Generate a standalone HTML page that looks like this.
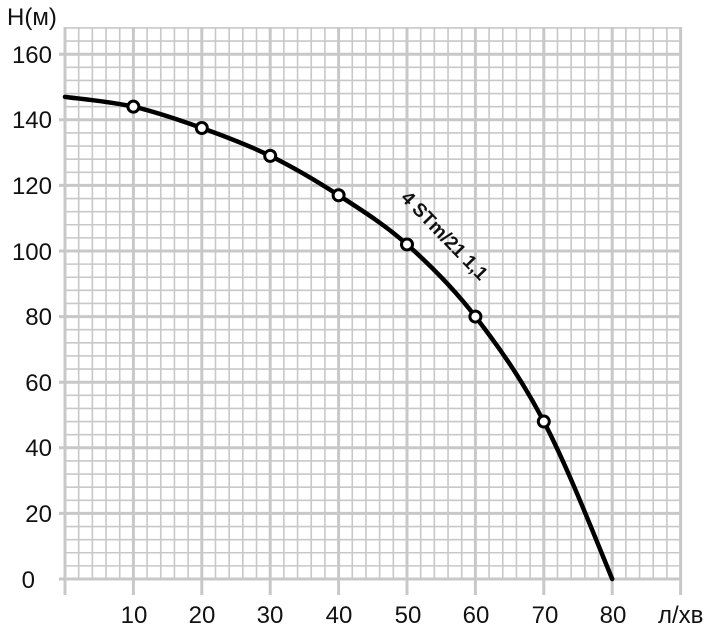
<!DOCTYPE html>
<html><head><meta charset="utf-8"><style>
html,body{margin:0;padding:0;background:#fff;}
svg{display:block;font-family:"Liberation Sans",Arial,sans-serif;}
</style></head><body>
<svg id="s" width="721" height="641" viewBox="0 0 721 641" xmlns="http://www.w3.org/2000/svg">
<g id="grid"></g>
<g font-size="24" fill="#111">
<text x="7" y="25">H(м)</text>
<text x="52" y="63" text-anchor="end">160</text>
<text x="52" y="128" text-anchor="end">140</text>
<text x="52" y="194" text-anchor="end">120</text>
<text x="52" y="260" text-anchor="end">100</text>
<text x="52" y="325" text-anchor="end">80</text>
<text x="52" y="391" text-anchor="end">60</text>
<text x="52" y="456" text-anchor="end">40</text>
<text x="52" y="522" text-anchor="end">20</text>
<text x="35" y="588" text-anchor="end">0</text>
<text x="134" y="623" text-anchor="middle">10</text>
<text x="202" y="623" text-anchor="middle">20</text>
<text x="270" y="623" text-anchor="middle">30</text>
<text x="339" y="623" text-anchor="middle">40</text>
<text x="408" y="623" text-anchor="middle">50</text>
<text x="476" y="623" text-anchor="middle">60</text>
<text x="545" y="623" text-anchor="middle">70</text>
<text x="613" y="623" text-anchor="middle">80</text>
<text x="658" y="623">л/хв</text>
</g>
<path id="curve" fill="none" stroke="#000" stroke-width="4.5" stroke-linecap="round"/>
<g id="marks"></g>
<text x="0" y="0" font-size="19" font-weight="bold" fill="#111" text-anchor="middle" transform="translate(440,240) rotate(46)">4 STm/21 1,1</text>
</svg>
<script>
function X(q){return 65+q*6.84;}function Y(h){return 579-h*3.28;}
var g=document.getElementById('grid'),s="";
for(var i=0;i<=45;i++){var x=X(i*2),maj=i%5==0;
s+='<line x1="'+x+'" y1="27" x2="'+x+'" y2="'+(maj?595:579)+'" stroke="#c8c8c8" stroke-width="'+(maj?3:1.6)+'"/>';}
for(var j=0;j<=42;j++){var y=Y(j*4),maj=j%5==0;
s+='<line x1="'+(maj?59:65)+'" y1="'+y+'" x2="681" y2="'+y+'" stroke="#c8c8c8" stroke-width="'+(maj?3:1.6)+'"/>';}
g.innerHTML=s;
var d=[[0,147],[10,144],[20,137.5],[30,129],[40,117],[50,102],[60,80],[70,48],[80,0]];
var p=d.map(function(a){return [X(a[0]),Y(a[1])];});
var path="M"+p[0][0]+","+p[0][1];
for(var k=0;k<p.length-1;k++){
var p0=p[Math.max(k-1,0)],p1=p[k],p2=p[k+1],p3=p[Math.min(k+2,p.length-1)];
if(k==p.length-2){p3=[2*p2[0]-p1[0],2*p2[1]-p1[1]+20];}
var c1=[p1[0]+(p2[0]-p0[0])/6,p1[1]+(p2[1]-p0[1])/6],c2=[p2[0]-(p3[0]-p1[0])/6,p2[1]-(p3[1]-p1[1])/6];
path+=" C"+c1+" "+c2+" "+p2;}
document.getElementById('curve').setAttribute('d',path);
var m="";for(var k=1;k<8;k++){m+='<circle cx="'+p[k][0]+'" cy="'+p[k][1]+'" r="5.5" fill="#fff" stroke="#000" stroke-width="3"/>';}
document.getElementById('marks').innerHTML=m;
</script>
</body></html>
